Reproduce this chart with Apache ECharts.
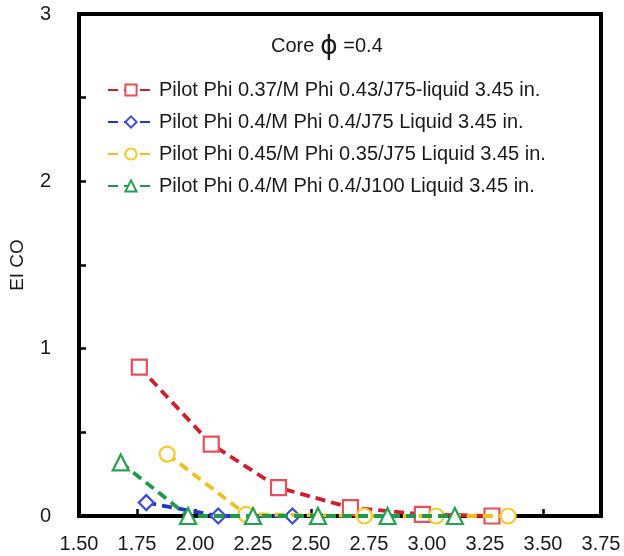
<!DOCTYPE html>
<html>
<head>
<meta charset="utf-8">
<script src="https://cdn.jsdelivr.net/npm/echarts@6/dist/echarts.min.js"></script>
<style>
  html, body { margin: 0; padding: 0; background: #fff; }
  #chart { width: 624px; height: 556px; }
</style>
</head>
<body>
<div id="chart"></div>
<script>
// Emission index of CO versus operating parameter, four pilot/main configurations
const seriesNames = [
  'Pilot Phi 0.37/M Phi 0.43/J75-liquid 3.45 in.',
  'Pilot Phi 0.4/M Phi 0.4/J75 Liquid 3.45 in.',
  'Pilot Phi 0.45/M Phi 0.35/J75 Liquid 3.45 in.',
  'Pilot Phi 0.4/M Phi 0.4/J100 Liquid 3.45 in.'
];

const redX = [1.76, 2.07, 2.36, 2.67, 2.98, 3.28];
const redY = [0.89, 0.43, 0.17, 0.05, 0.01, 0.0];

const blueX = [1.79, 2.10, 2.42];
const blueY = [0.08, 0.0, 0.0];

const yellowX = [1.88, 2.22, 2.73, 3.04, 3.35];
const yellowY = [0.37, 0.01, 0.0, 0.0, 0.0];

const greenX = [1.68, 1.97, 2.25, 2.53, 2.83, 3.12];
const greenY = [0.32, 0.0, 0.0, 0.0, 0.0, 0.0];

const xTicks = ['1.50', '1.75', '2.00', '2.25', '2.50', '2.75', '3.00', '3.25', '3.50', '3.75'];
const yTicks = ['0', '1', '2', '3'];

const lineColors = ['#cf1f2e', '#2236c9', '#f0c020', '#1f9a4a'];
const markColors = ['#e5505a', '#3a4fd8', '#f3cb2e', '#23a24f'];
const symbols = ['rect', 'diamond', 'circle', 'triangle'];
const xs = [redX, blueX, yellowX, greenX];
const ys = [redY, blueY, yellowY, greenY];

const FONT = 'Liberation Sans, Arial, sans-serif';

const series = seriesNames.map((name, i) => ({
  name: name,
  type: 'line',
  data: xs[i].map((x, k) => [x, ys[i][k]]),
  symbol: symbols[i],
  symbolSize: symbols[i] === 'triangle' ? 16 : 15,
  showSymbol: true,
  z: 2 + i,
  lineStyle: { color: lineColors[i], width: 3.8, type: [10, 6] },
  itemStyle: { color: '#fff', borderColor: markColors[i], borderWidth: 2.2 }
}));

const chart = echarts.init(document.getElementById('chart'), null, { renderer: 'canvas' });
chart.setOption({
  animation: false,
  backgroundColor: '#fff',
  title: {
    left: 266,
    top: 28,
    text: '{a|Core }{p|\u03D5}{a| =0.4}',
    textStyle: {
      rich: {
        a: { fontFamily: FONT, fontSize: 20, fontWeight: 'normal', color: '#1a1a1a' },
        p: { fontFamily: 'DejaVu Sans', fontSize: 27, fontWeight: 'normal', color: '#1a1a1a' }
      }
    }
  },
  legend: {
    orient: 'vertical',
    left: 102,
    top: 75,
    itemWidth: 46,
    itemHeight: 14,
    itemGap: 12,
    textStyle: { fontFamily: FONT, fontSize: 20, color: '#1a1a1a' },
    data: seriesNames
  },
  grid: {
    left: 79, right: 23, top: 14, bottom: 40,
    outerBoundsMode: 'none',
    containLabel: false,
    show: true,
    borderColor: '#000',
    borderWidth: 4
  },
  xAxis: {
    type: 'value',
    min: 1.5,
    max: 3.75,
    interval: 0.25,
    axisLine: { show: true, lineStyle: { color: '#000', width: 4 } },
    axisTick: { show: true, inside: true, length: 7, lineStyle: { color: '#000', width: 2.5 } },
    splitLine: { show: false },
    axisLabel: {
      margin: 18,
      fontFamily: FONT,
      fontSize: 20,
      color: '#1a1a1a',
      formatter: (v) => {
        const s = v.toFixed(2);
        return xTicks.indexOf(s) >= 0 ? s : '';
      }
    }
  },
  yAxis: {
    type: 'value',
    min: 0,
    max: 3,
    interval: 0.5,
    name: 'EI CO',
    nameLocation: 'middle',
    nameGap: 52,
    nameMoveOverlap: false,
    nameTextStyle: { fontFamily: FONT, fontSize: 19, color: '#1a1a1a' },
    axisLine: { show: true, lineStyle: { color: '#000', width: 4 } },
    axisTick: { show: true, inside: true, length: 7, lineStyle: { color: '#000', width: 2.5 } },
    splitLine: { show: false },
    axisLabel: {
      margin: 28,
      fontFamily: FONT,
      fontSize: 20,
      color: '#1a1a1a',
      formatter: (v) => {
        const s = String(Math.round(v * 10) / 10);
        return yTicks.indexOf(s) >= 0 ? s : '';
      }
    }
  },
  series: series
});
</script>
</body>
</html>
